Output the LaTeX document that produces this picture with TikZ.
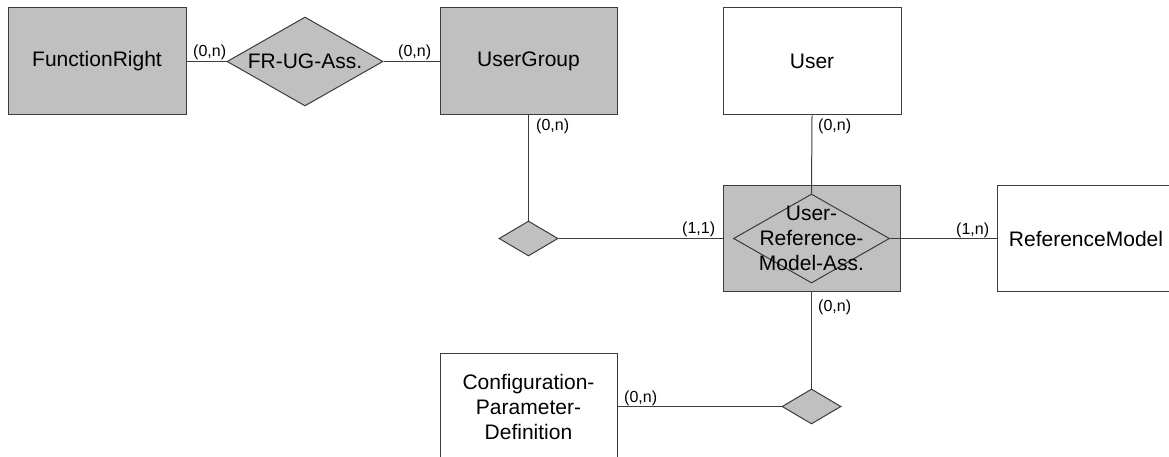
\documentclass[tikz,border=0pt]{standalone}
\usepackage{fontspec}
\setmainfont{Liberation Sans}
\usetikzlibrary{shapes.geometric}
\definecolor{boxgray}{RGB}{192,192,192}
\definecolor{linecol}{RGB}{60,60,60}
\tikzset{
  entity/.style={draw=linecol, line width=1pt, rectangle, inner sep=0pt, minimum width=#1, minimum height=107pt,
     font=\fontsize{21}{25}\selectfont, align=center},
  entity/.default=178pt,
  rel/.style n args={2}{draw=linecol, line width=1pt, diamond, fill=boxgray, inner sep=0pt, minimum width=#1, minimum height=#2},
  conn/.style={draw=linecol, line width=1pt},
  card/.style={font=\fontsize{16}{18}\selectfont, inner sep=0pt, anchor=base west},
  reltext/.style={font=\fontsize{21}{25}\selectfont, align=center, inner sep=0pt}
}
\begin{document}
\begin{tikzpicture}[x=1pt,y=-1pt]
\useasboundingbox (0,0) rectangle (1169,457);
\fill[white] (0,0) rectangle (1169,457);
% entities
\node[entity, fill=boxgray] (FR) at (97,61.5) {FunctionRight};
\node[entity=177pt, fill=boxgray] (UG) at (528.5,61.5) {UserGroup};
\node[entity, fill=white] (U) at (812,61.5) {User};
\node[entity=177pt, fill=boxgray, minimum height=105pt] (URMbox) at (811.5,238.5) {};
\node[entity, fill=white, minimum height=105pt] (RM) at (1086,238.5) {ReferenceModel};
\node[entity=177pt, fill=white] (CPD) at (528.5,407) {Configuration-\\Parameter-\\Definition};
% relationships
\node[rel={156pt}{89pt}] (FRUG) at (305,61.5) {};
\node[reltext] at (FRUG.center) {FR-UG-Ass.};
\node[rel={59pt}{35pt}] (D1) at (528.5,238.5) {};
\node[rel={156pt}{89pt}] (URM) at (811.5,238.5) {};
\node[rel={59pt}{35pt}] (D2) at (811.5,406.5) {};
% connectors
\draw[conn] (FR.east) -- (FRUG.west);
\draw[conn] (FRUG.east) -- (UG.west);
\draw[conn] (UG.south) -- (D1.north);
\draw[conn] (D1.east) -- (URMbox.west);
\draw[conn] (U.south) -- (URM.north);
\draw[conn] (URM.east) -- (RM.west);
\draw[conn] (URMbox.south) -- (D2.north);
\draw[conn] (CPD.east |- D2.west) -- (D2.west);
\node[reltext] (URMtext) at (URM.center) {User-\\Reference-\\Model-Ass.};
% cardinalities
\node[card] (c1) at (193,57) {(0,n)};
\node[card] (c2) at (398,57) {(0,n)};
\node[card] (c3) at (536,131) {(0,n)};
\node[card] (c4) at (818,131) {(0,n)};
\node[card] (c5) at (682,233) {(1,1)};
\node[card] (c6) at (956,234) {(1,n)};
\node[card] (c7) at (818,311) {(0,n)};
\node[card] (c8) at (624,402) {(0,n)};
\end{tikzpicture}
\end{document}
